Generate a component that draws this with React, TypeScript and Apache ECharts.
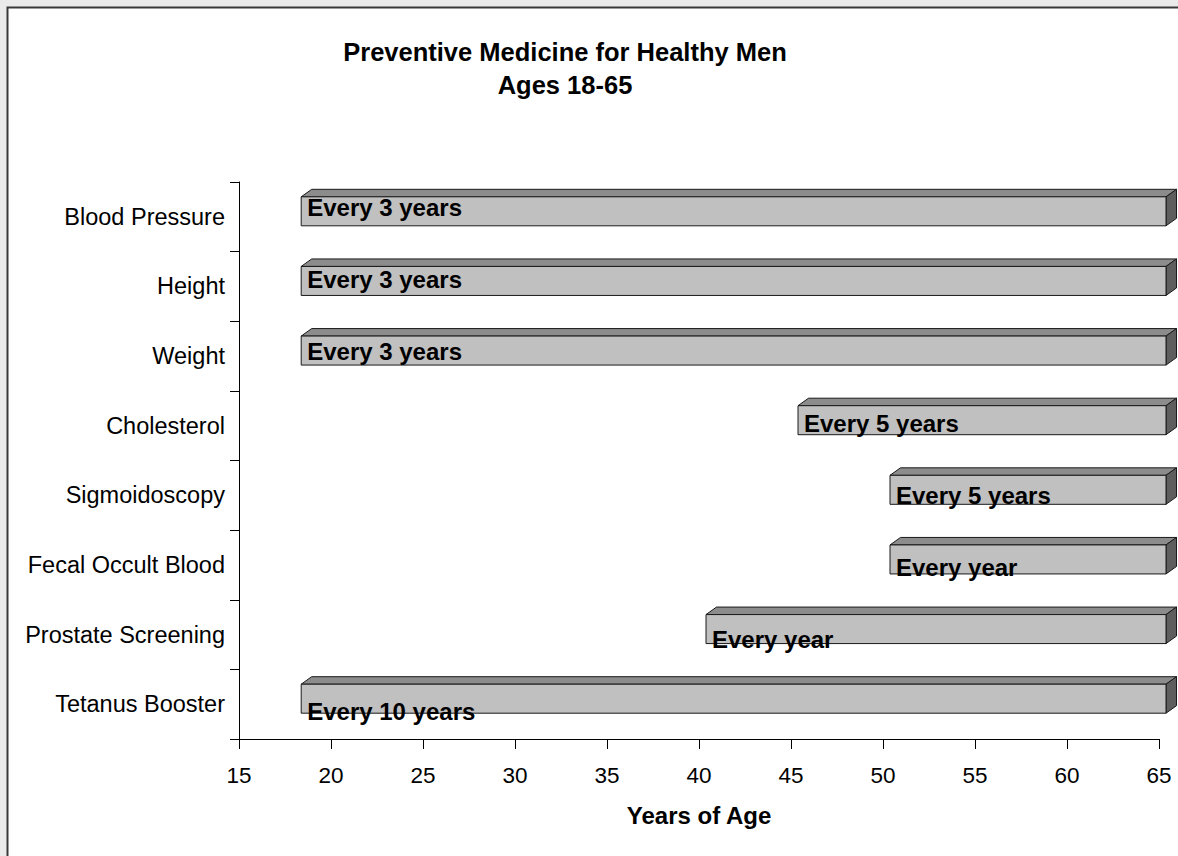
import React, { useEffect, useRef } from "react";
import * as echarts from "echarts";

const categories = [
  "Blood Pressure",
  "Height",
  "Weight",
  "Cholesterol",
  "Sigmoidoscopy",
  "Fecal Occult Blood",
  "Prostate Screening",
  "Tetanus Booster",
];
const startAges = [18, 18, 18, 45, 50, 50, 40, 18];
const endAges = [65, 65, 65, 65, 65, 65, 65, 65];
const frequencyLabels = [
  "Every 3 years",
  "Every 3 years",
  "Every 3 years",
  "Every 5 years",
  "Every 5 years",
  "Every year",
  "Every year",
  "Every 10 years",
];
const xTicks = { min: 15, max: 65, interval: 5 };
const titleLines = ["Preventive Medicine for Healthy Men", "Ages 18-65"];
const xAxisTitle = "Years of Age";

const FONT = "'Liberation Sans', Arial, Helvetica, sans-serif";

export default function App() {
  const ref = useRef<HTMLDivElement>(null);
  useEffect(() => {
    if (!ref.current) return;
    const chart = echarts.init(ref.current, null, { renderer: "svg" });
    const data = categories.map((c, i) => [startAges[i], endAges[i], i, frequencyLabels[i]]);
    const n = categories.length;
    chart.setOption({
      animation: false,
      backgroundColor: "#ebebeb",
      textStyle: { fontFamily: FONT },
      graphic: [
        {
          type: "rect",
          z: -10,
          silent: true,
          shape: { x: 7.5, y: 7.5, width: 1200, height: 900 },
          style: { fill: "#ffffff", stroke: "#3a3a3a", lineWidth: 2 },
        },
        {
          type: "text",
          x: 565,
          y: 52,
          style: {
            text: titleLines[0],
            fontFamily: FONT,
            fontSize: 25.5,
            fontWeight: "bold",
            fill: "#000",
            align: "center",
            verticalAlign: "middle",
          },
        },
        {
          type: "text",
          x: 565,
          y: 85,
          style: {
            text: titleLines[1],
            fontFamily: FONT,
            fontSize: 25.5,
            fontWeight: "bold",
            fill: "#000",
            align: "center",
            verticalAlign: "middle",
          },
        },
      ],
      grid: {
        left: 239,
        right: 19,
        top: 182,
        bottom: 117,
        containLabel: false,
        outerBoundsMode: "none",
      },
      xAxis: {
        type: "value",
        min: xTicks.min,
        max: xTicks.max,
        interval: xTicks.interval,
        name: xAxisTitle,
        nameLocation: "middle",
        nameGap: 64,
        nameTextStyle: { fontFamily: FONT, fontSize: 24, fontWeight: "bold", color: "#000" },
        axisLine: { show: true, lineStyle: { color: "#000", width: 1 } },
        axisTick: { show: true, length: 10, lineStyle: { color: "#000" } },
        axisLabel: { fontFamily: FONT, fontSize: 22.5, color: "#000", margin: 25 },
        splitLine: { show: false },
      },
      yAxis: {
        type: "category",
        data: categories,
        inverse: true,
        axisLine: { show: true, lineStyle: { color: "#000", width: 1 } },
        axisTick: { show: true, length: 9, lineStyle: { color: "#000" } },
        axisLabel: { fontFamily: FONT, fontSize: 23.5, color: "#000", margin: 14 },
        splitLine: { show: false },
      },
      series: [
        {
          type: "custom",
          encode: { x: [0, 1], y: 2 },
          data,
          renderItem: (params: any, api: any) => {
            const i = api.value(2);
            const s = api.coord([api.value(0), i]);
            const e = api.coord([api.value(1), i]);
            const yc = s[1];
            const shift = 7;
            const dx = 10.5;
            const dy = -7.5;
            const x0 = s[0] + shift;
            const x1 = e[0] + shift;
            const top = yc - 20;
            const bot = yc + 9;
            const stroke = "#1a1a1a";
            const labelDy = -9.5 + (i * 16.5) / (n - 1);
            return {
              type: "group",
              children: [
                {
                  type: "polygon",
                  shape: {
                    points: [
                      [x0, top],
                      [x0 + dx, top + dy],
                      [x1 + dx, top + dy],
                      [x1, top],
                    ],
                  },
                  style: { fill: "#8c8c8c", stroke, lineWidth: 1 },
                },
                {
                  type: "polygon",
                  shape: {
                    points: [
                      [x1, top],
                      [x1 + dx, top + dy],
                      [x1 + dx, bot + dy],
                      [x1, bot],
                    ],
                  },
                  style: { fill: "#5e5e5e", stroke, lineWidth: 1 },
                },
                {
                  type: "rect",
                  shape: { x: x0, y: top, width: x1 - x0, height: bot - top },
                  style: { fill: "#c0c0c0", stroke, lineWidth: 1 },
                },
                {
                  type: "text",
                  x: x0 + 6,
                  y: yc + labelDy,
                  style: {
                    text: api.value(3),
                    fontFamily: FONT,
                    fontSize: 24,
                    fontWeight: "bold",
                    fill: "#000",
                    align: "left",
                    verticalAlign: "middle",
                  },
                },
              ],
            };
          },
        },
      ],
    });
    return () => chart.dispose();
  }, []);
  return (
    <div
      ref={ref}
      style={{ position: "fixed", left: 0, top: 0, width: 1178, height: 856 }}
    />
  );
}
